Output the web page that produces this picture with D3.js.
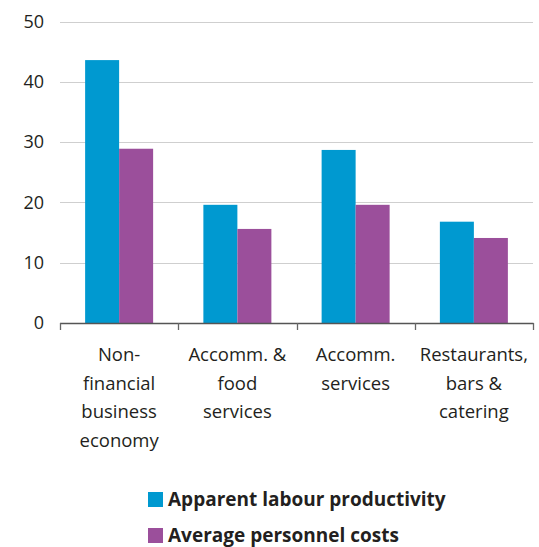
<!DOCTYPE html>
<html>
<head>
<meta charset="utf-8">
<script src="https://cdn.jsdelivr.net/npm/d3@7"></script>
<style>
  html, body { margin: 0; padding: 0; background: #fff; }
  svg { display: block; }
  text { font-family: "Open Sans", "Noto Sans", sans-serif; fill: #231f20; }
</style>
</head>
<body>
<svg id="chart" width="539" height="547"></svg>
<script>
const categories = [
  ["Non-", "financial", "business", "economy"],
  ["Accomm. &", "food", "services"],
  ["Accomm.", "services"],
  ["Restaurants,", "bars &", "catering"]
];
const seriesNames = ["Apparent labour productivity", "Average personnel costs"];
const productivity = [43.6, 19.6, 28.7, 16.8];
const personnelCosts = [28.9, 15.6, 19.6, 14.1];
const yTicks = [0, 10, 20, 30, 40, 50];
const colors = ["#0099d0", "#9b4f9b"];

const svg = d3.select("#chart");
const plotLeft = 60, plotRight = 533, plotTop = 21.5, plotBottom = 323;

const x = d3.scaleBand().domain(d3.range(categories.length)).range([plotLeft, plotRight]).paddingInner(0).paddingOuter(0);
const y = d3.scaleLinear().domain([0, 50]).range([plotBottom, plotTop]);
const barW = 34;
const xSub = d3.scaleBand().domain([0, 1]).range([x.bandwidth() / 2 - barW, x.bandwidth() / 2 + barW]);

// gridlines
svg.append("g").selectAll("line").data(yTicks.filter(d => d > 0)).join("line")
  .attr("x1", plotLeft).attr("x2", plotRight)
  .attr("y1", d => Math.round(y(d)) + 0.5).attr("y2", d => Math.round(y(d)) + 0.5)
  .attr("stroke", "#cfcfcf").attr("stroke-width", 1);

// y labels
svg.append("g").selectAll("text").data(yTicks).join("text")
  .attr("x", 44).attr("y", d => y(d)).attr("dy", "0.35em")
  .attr("text-anchor", "end").style("font-size", "18px")
  .text(d => d);

// bars
const data = [productivity, personnelCosts];
data.forEach((vals, s) => {
  svg.append("g").selectAll("rect").data(vals).join("rect")
    .attr("x", (d, i) => x(i) + xSub(s))
    .attr("width", xSub.bandwidth())
    .attr("y", d => y(d))
    .attr("height", d => plotBottom - y(d))
    .attr("fill", colors[s]);
});

// x axis
const axisG = svg.append("g");
axisG.append("line").attr("x1", plotLeft).attr("x2", plotRight + 0.5)
  .attr("y1", plotBottom + 0.5).attr("y2", plotBottom + 0.5)
  .attr("stroke", "#555").attr("stroke-width", 1.3);
const boundaries = d3.range(categories.length + 1).map(i => plotLeft + i * x.bandwidth());
axisG.selectAll("line.tick").data(boundaries).join("line").attr("class", "tick")
  .attr("x1", d => Math.round(d) + 0.5).attr("x2", d => Math.round(d) + 0.5)
  .attr("y1", plotBottom).attr("y2", plotBottom + 7)
  .attr("stroke", "#666").attr("stroke-width", 1.3);

// category labels
categories.forEach((lines, i) => {
  const t = svg.append("text").attr("text-anchor", "middle").style("font-size", "18.5px");
  lines.forEach((ln, j) => {
    t.append("tspan").attr("x", x(i) + x.bandwidth() / 2).attr("y", 361 + j * 28.5).text(ln);
  });
});

// legend
seriesNames.forEach((name, s) => {
  const yy = 492 + s * 36;
  svg.append("rect").attr("x", 148).attr("y", yy).attr("width", 15).attr("height", 15).attr("fill", colors[s]);
  svg.append("text").attr("x", 168).attr("y", yy + 7.5).attr("dy", "0.35em")
    .style("font-size", "19px").style("font-weight", "bold").text(name);
});
</script>
</body>
</html>
